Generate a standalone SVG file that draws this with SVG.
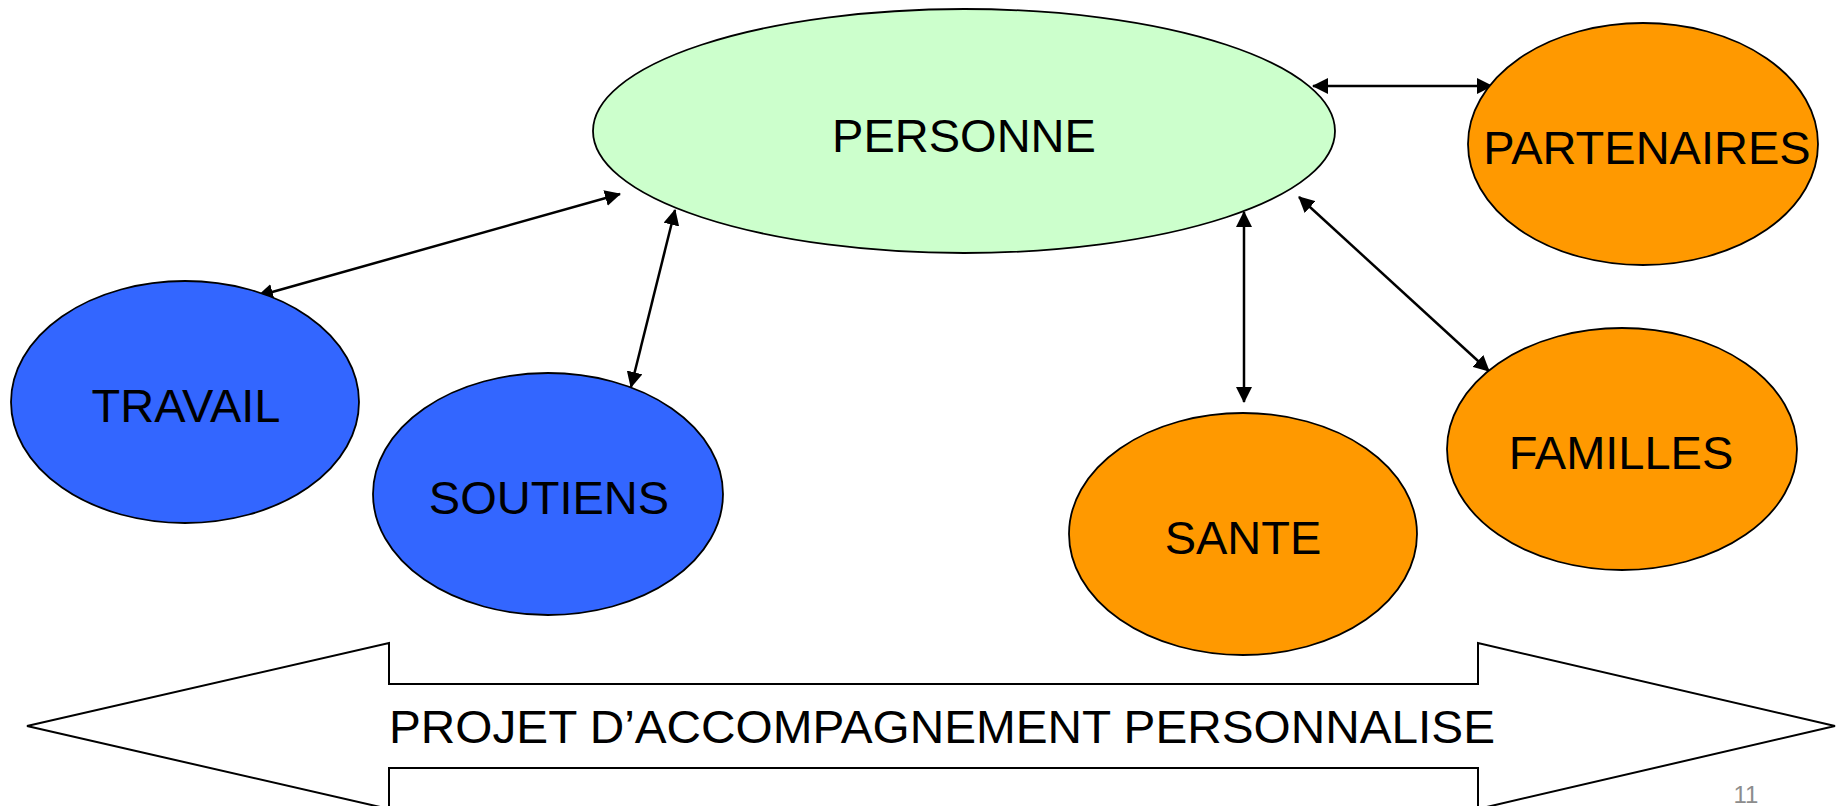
<svg xmlns="http://www.w3.org/2000/svg" width="1839" height="806" viewBox="0 0 1839 806">
<style>
.n{stroke:#000;stroke-width:1.8}
.t{font-family:"Liberation Sans",Arial,sans-serif;font-size:47px;fill:#000;text-anchor:middle}
.c{stroke:#000;stroke-width:2.5;fill:none;marker-start:url(#ah);marker-end:url(#ah)}
</style>
<defs>
<marker id="ah" viewBox="0 0 16 16" refX="15" refY="8" markerWidth="16" markerHeight="16" markerUnits="userSpaceOnUse" orient="auto-start-reverse">
<path d="M0,0 L16,8 L0,16 z" fill="#000"/>
</marker>
</defs>
<rect width="1839" height="806" fill="#fff"/>
<g id="projet">
<polygon points="27,726 389,643 389,684 1478,684 1478,643 1835,726 1478,809 1478,768 389,768 389,809" fill="#fff" stroke="#000" stroke-width="2"/>
<text x="389" y="743" style="font-family:'Liberation Sans',Arial,sans-serif;font-size:47px" textLength="1106" lengthAdjust="spacingAndGlyphs">PROJET D’ACCOMPAGNEMENT PERSONNALISE</text>
</g>
<g id="connectors">
<line class="c" x1="1313" y1="86" x2="1492" y2="86"/>
<line class="c" x1="620" y1="194" x2="258" y2="296"/>
<line class="c" x1="675" y1="210" x2="631" y2="387"/>
<line class="c" x1="1244" y1="212" x2="1244" y2="402"/>
<line class="c" x1="1299" y1="197" x2="1489" y2="371"/>
</g>
<g id="personne">
<ellipse class="n" cx="964" cy="131" rx="371" ry="122" fill="#ccffcc"/>
<text class="t" x="964" y="152">PERSONNE</text>
</g>
<g id="partenaires">
<ellipse class="n" cx="1643" cy="144" rx="175" ry="121" fill="#ff9900"/>
<text class="t" x="1647" y="164">PARTENAIRES</text>
</g>
<g id="travail">
<ellipse class="n" cx="185" cy="402" rx="174" ry="121" fill="#3366ff"/>
<text class="t" x="186" y="422">TRAVAIL</text>
</g>
<g id="soutiens">
<ellipse class="n" cx="548" cy="494" rx="175" ry="121" fill="#3366ff"/>
<text class="t" x="549" y="514">SOUTIENS</text>
</g>
<g id="sante">
<ellipse class="n" cx="1243" cy="534" rx="174" ry="121" fill="#ff9900"/>
<text class="t" x="1243" y="554">SANTE</text>
</g>
<g id="familles">
<ellipse class="n" cx="1622" cy="449" rx="175" ry="121" fill="#ff9900"/>
<text class="t" x="1621" y="469">FAMILLES</text>
</g>
<text x="1746" y="803" style="font-family:'Liberation Sans',Arial,sans-serif;font-size:24px;fill:#8c8c8c;text-anchor:middle">11</text>
</svg>
